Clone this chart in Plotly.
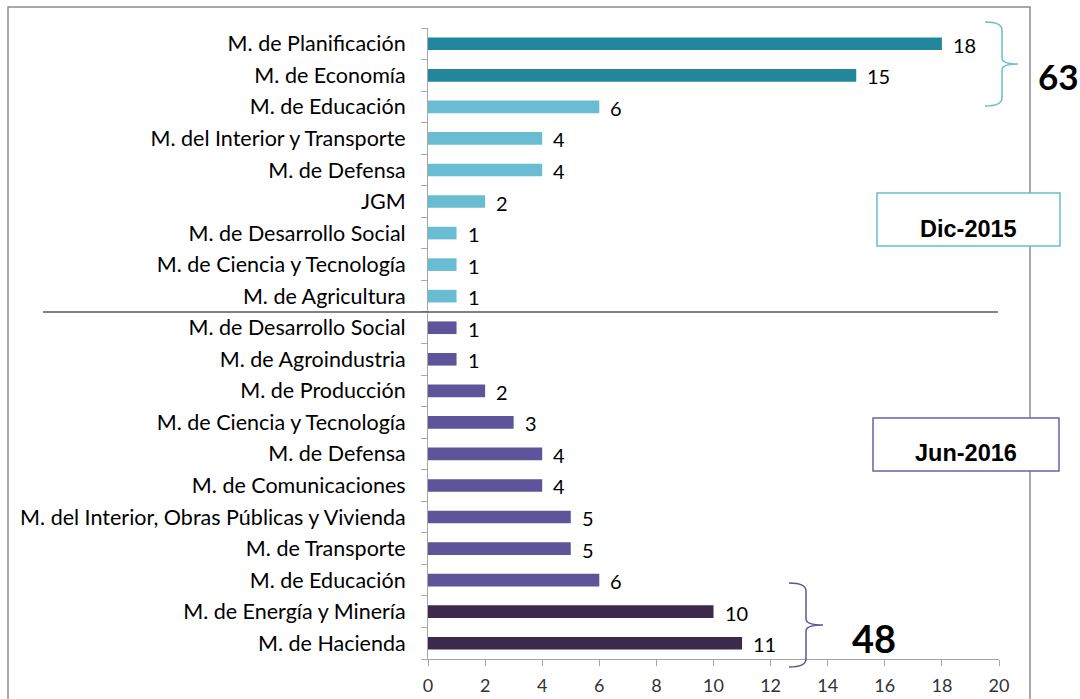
import plotly.graph_objects as go

# ---- data ----
dic_labels = ["M. de Planificación", "M. de Economía", "M. de Educación",
              "M. del Interior y Transporte", "M. de Defensa", "JGM",
              "M. de Desarrollo Social", "M. de Ciencia y Tecnología",
              "M. de Agricultura"]
dic_values = [18, 15, 6, 4, 4, 2, 1, 1, 1]

jun_labels = ["M. de Desarrollo Social", "M. de Agroindustria", "M. de Producción",
              "M. de Ciencia y Tecnología", "M. de Defensa", "M. de Comunicaciones",
              "M. del Interior, Obras Públicas y Vivienda", "M. de Transporte",
              "M. de Educación", "M. de Energía y Minería", "M. de Hacienda"]
jun_values = [1, 1, 2, 3, 4, 4, 5, 5, 6, 10, 11]

x_ticks = [0, 2, 4, 6, 8, 10, 12, 14, 16, 18, 20]
group_labels = ["Dic-2015", "Jun-2016"]
totals = ["63", "48"]

# ---- styles ----
TEAL = "#23879B"
LIGHT = "#6ABCD2"
PURPLE = "#5D5499"
DARK = "#3B2A4C"
AXIS = "#A6A6A6"
FONT = "Lato"

dic_colors = [TEAL, TEAL] + [LIGHT] * (len(dic_values) - 2)
jun_colors = [PURPLE] * (len(jun_values) - 2) + [DARK, DARK]

n_dic = len(dic_labels)
dic_y = list(range(n_dic))
jun_y = list(range(n_dic, n_dic + len(jun_labels)))
all_y = dic_y + jun_y
all_labels = dic_labels + jun_labels
N = len(all_y)

# figure geometry (pixels); body margin removed so figure == screen
W, H = 1080, 699
L, T = 428, 28
B = H - 659
R = W - 999
PW, PH = W - L - R, H - T - B


def px(x):  # screen x -> paper
    return (x - L) / PW


def py(y):  # screen y -> paper
    return (H - B - y) / PH


fig = go.Figure()
fig.add_trace(go.Bar(y=dic_y, x=dic_values, orientation="h", width=0.4,
                     marker=dict(color=dic_colors, line=dict(width=0)),
                     hoverinfo="x"))
fig.add_trace(go.Bar(y=jun_y, x=jun_values, orientation="h", width=0.4,
                     marker=dict(color=jun_colors, line=dict(width=0)),
                     hoverinfo="x"))

annotations = []
for yv, xv in zip(all_y, dic_values + jun_values):
    annotations.append(dict(x=xv, y=yv, xref="x", yref="y", text=str(xv),
                            showarrow=False, xanchor="left", yanchor="middle",
                            xshift=9, yshift=-1,
                            font=dict(family=FONT, size=20, color="#000000")))

shapes = []
# outer frame
shapes.append(dict(type="rect", xref="paper", yref="paper",
                   x0=px(8), x1=px(1030), y0=py(730), y1=py(7),
                   line=dict(color="#8C8C8C", width=1.5), layer="below"))
# separator
shapes.append(dict(type="line", xref="paper", yref="y",
                   x0=px(43), x1=px(998), y0=n_dic - 0.5, y1=n_dic - 0.5,
                   line=dict(color="#595959", width=1.5)))


def brace(x0, xm, xt, y0, y1, color):
    ym = (y0 + y1) / 2
    p = (f"M {px(x0)},{py(y0)} "
         f"Q {px(xm)},{py(y0)} {px(xm)},{py(y0 + 8)} "
         f"L {px(xm)},{py(ym - 6)} "
         f"Q {px(xm)},{py(ym)} {px(xt)},{py(ym)} "
         f"Q {px(xm)},{py(ym)} {px(xm)},{py(ym + 6)} "
         f"L {px(xm)},{py(y1 - 8)} "
         f"Q {px(xm)},{py(y1)} {px(x0)},{py(y1)}")
    return dict(type="path", xref="paper", yref="paper", path=p,
                line=dict(color=color, width=1.5))


shapes.append(brace(985, 1002, 1018, 22, 106, LIGHT))
shapes.append(brace(789, 806, 823, 583, 667, PURPLE))

# group boxes
shapes.append(dict(type="rect", xref="paper", yref="paper",
                   x0=px(877), x1=px(1060), y0=py(246), y1=py(193),
                   line=dict(color=LIGHT, width=1.5), fillcolor="white"))
shapes.append(dict(type="rect", xref="paper", yref="paper",
                   x0=px(873), x1=px(1059), y0=py(471), y1=py(418),
                   line=dict(color="#6B62A8", width=1.5), fillcolor="white"))


def label(x, y, text, family, size):
    return dict(x=px(x), y=py(y), xref="paper", yref="paper", text=text,
                showarrow=False, xanchor="center", yanchor="middle",
                font=dict(family=family, size=size, color="#000"))


annotations.append(label(968, 229, f"<b>{group_labels[0]}</b>", "Liberation Sans", 23.5))
annotations.append(label(966, 453, f"<b>{group_labels[1]}</b>", "Liberation Sans", 23.5))
annotations.append(label(1058, 76, f"<b>{totals[0]}</b>", FONT, 35))
annotations.append(label(874, 638, f"<b>{totals[1]}</b>", FONT, 38))

fig.update_layout(
    width=W, height=H,
    margin=dict(l=L, r=R, t=T, b=B, pad=0, autoexpand=False),
    paper_bgcolor="white", plot_bgcolor="white",
    showlegend=False, barmode="overlay",
    shapes=shapes, annotations=annotations,
    xaxis=dict(range=[0, 20], tickvals=x_ticks, ticks="outside", ticklen=6,
               tickcolor=AXIS, showline=True, linecolor=AXIS, linewidth=1,
               showgrid=False, zeroline=False, automargin=False,
               ticklabelstandoff=4,
               tickfont=dict(family=FONT, size=18, color="#333333")),
    yaxis=dict(range=[N - 0.5, -0.5], tickvals=all_y, ticktext=all_labels,
               ticks="", showline=True, linecolor=AXIS, linewidth=1,
               showgrid=False, zeroline=False, ticklabelstandoff=17,
               automargin=False,
               tickfont=dict(family=FONT, size=21.5, color="#000000"),
               minor=dict(tickvals=[i - 0.5 for i in range(N + 1)],
                          ticks="outside", ticklen=6, tickcolor=AXIS,
                          showgrid=False)),
)

fig.write_html("out.html", config={"displayModeBar": False},
               post_script="document.body.style.margin='0';"
                           "document.body.style.overflow='hidden';")
